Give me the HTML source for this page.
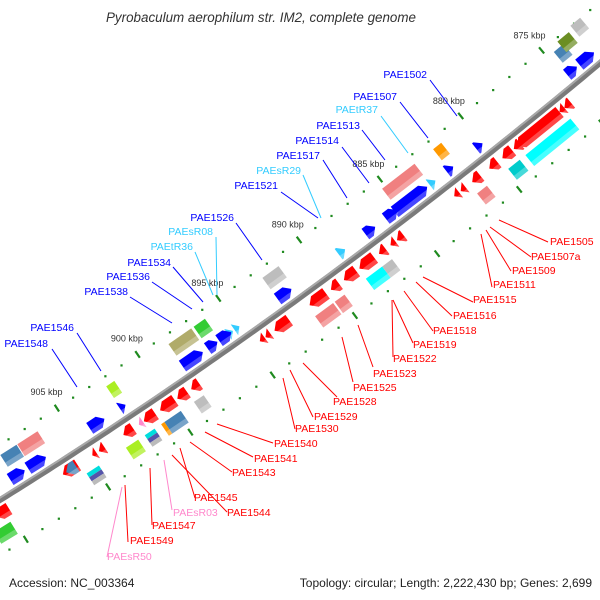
<!DOCTYPE html>
<html><head><meta charset="utf-8"><style>
html,body{margin:0;padding:0;background:#fff;}
svg{display:block;font-family:"Liberation Sans",sans-serif;}
</style></head><body>
<svg id="chart" width="600" height="600" viewBox="0 0 600 600" xmlns="http://www.w3.org/2000/svg">
<text x="261" y="22" text-anchor="middle" font-size="13.5" font-style="italic" fill="#333" textLength="310" lengthAdjust="spacingAndGlyphs">Pyrobaculum aerophilum str. IM2, complete genome</text>
<g id="ticks"></g>
<path id="backbone" d="" fill="none" stroke="#7a7a7a" stroke-width="6"/>
<path id="backbone2" d="" fill="none" stroke="#a8a8a8" stroke-width="2"/>
<g id="genes"></g>
<g id="labels"></g>
<text x="9" y="587" font-size="12" fill="#222">Accession: NC_003364</text>
<text x="592" y="587" font-size="12" fill="#222" text-anchor="end">Topology: circular; Length: 2,222,430 bp; Genes: 2,699</text>
</svg>
<script>
// ---- data ----
const tickKbp = [868,869,870,871,872,873,874,875,876,877,878,879,880,881,882,883,884,885,886,887,888,889,890,891,892,893,894,895,896,897,898,899,900,901,902,903,904,905,906,907,908,909,910,911,912];
const tickLabelKbp = [875,880,885,890,895,900,905];
const geneStart = [873.15,874.2,874.0,873.45,872.6,880.0,881.55,881.8,882.9,883.2,883.4,885.25,886.6,888.45,891.6,891.75,896.15,894.95,895.35,895.45,896.3,897.0,897.2,901.75,901.95,903.25,906.5,907.8,906.85,908.15,875.5,875.9,876.2,878.6,879.1,876.0,879.1,880.0,881.05,881.95,882.35,881.1,885.75,886.25,886.85,887.55,887.5,886.9,888.65,889.7,890.5,890.5,889.8,892.75,893.9,894.25,898.25,899.0,898.4,899.75,900.95,901.7,899.8,900.8,901.4,902.3,902.4,904.05,904.55,905.7,905.8,904.8,909.9,910.2];
const geneEnd   = [874.05,874.8,874.6,874.15,873.2,880.4,882.05,882.2,883.25,885.2,885.4,885.95,887.2,888.85,892.6,892.6,896.85,895.25,895.65,896.2,896.9,898.4,898.45,902.25,902.3,904.15,907.75,908.8,907.95,909.05,875.9,876.2,878.8,879.0,879.7,878.75,879.8,880.5,881.55,882.25,882.65,881.7,886.15,886.55,887.25,888.45,888.5,887.5,889.4,890.2,891.5,891.6,890.4,893.65,894.2,894.55,898.75,899.6,899.0,900.65,901.65,901.95,900.8,901.0,902.0,902.9,903.15,904.4,904.8,906.6,906.4,905.55,910.7,911.2];
const geneLane  = [-1,-1,-2,-2.3,-2.5,-1,-2,-1,-1,-2,-1,-1,-1,-1,-2,-1,-2,-1,-1,-1,-1,-2,-1,-2,-1,-1,-2,-2,-1,-1,1,1,1,1,1,2,2,1,1,1,1,2,1,1,1,1,2,2,1,1,1,2,2,1,1,1,1,1,2,1,1,1,2,2,2,1,2,1,1,1,1,2,1,2];
const geneKind  = ["blue","blue","steel","olivegreen","gray","blue","orange","blue","ltblue","pink","blue","blue","blue","ltblue","gray","blue","green","ltblue","ltblue","blue","blue","olive","blue","lime","blue","blue","pink","steel","blue","blue","red","red","red","red","red","cyan","cyan2","red","red","red","red","pink","red","red","red","red","cyan","gray","red","red","red","pink","pink","red","red","red","red","red","gray","red","red","rpink","steel","orange","stack","red","lime","red","red","red","steel","stack","red","green"];

const labelText = ["PAE1502","PAE1507","PAEtR37","PAE1513","PAE1514","PAE1517","PAEsR29","PAE1521","PAE1526","PAEsR08","PAEtR36","PAE1534","PAE1536","PAE1538","PAE1546","PAE1548",
 "PAE1505","PAE1507a","PAE1509","PAE1511","PAE1515","PAE1516","PAE1518","PAE1519","PAE1522","PAE1523","PAE1525","PAE1528","PAE1529","PAE1530","PAE1540","PAE1541","PAE1543","PAE1545","PAE1544","PAEsR03","PAE1547","PAE1549","PAEsR50"];
const labelColor = ["b","b","l","b","b","b","l","b","b","l","l","b","b","b","b","b",
 "r","r","r","r","r","r","r","r","r","r","r","r","r","r","r","r","r","r","r","p","r","r","p"];
const labelX = [427,397,378,360,339,320,301,278,234,213,193,171,150,128,74,48, 550,531,512,493,473,453,433,413,393,373,353,333,314,295,274,254,232,194,227,173,152,130,107];
const labelY = [78,100,113,129,144,159,174,189,221,235,250,266,280,295,331,347, 245,260,274,288,303,319,334,348,362,377,391,405,420,432,447,462,476,501,516,516,529,544,560];
const leaderA = [[430,80],[400,102],[381,116],[362,130],[342,147],[323,160],[303,175],[281,192],[236,223],[216,237],[195,252],[173,267],[152,282],[130,297],[77,333],[52,349],
 [548,242],[531,257],[511,271],[492,287],[473,302],[452,316],[433,331],[413,343],[393,357],[373,367],[353,382],[337,397],[313,417],[295,429],[273,443],[253,457],[232,472],[195,498],[227,512],[172,510],[152,525],[128,542],[107,557]];
const leaderB = [[457,116],[428,138],[408,153],[385,160],[369,183],[347,198],[321,218],[318,218],[262,260],[217,295],[213,295],[203,302],[192,309],[172,323],[101,371],[77,387],
 [499,220],[490,227],[486,230],[481,234],[423,277],[416,282],[404,291],[393,300],[392,300],[358,325],[342,337],[303,363],[290,370],[283,378],[217,424],[205,432],[190,442],[180,448],[172,455],[164,460],[150,468],[125,485],[122,487]];

// ---- geometry ----
const P0=[0,500], C1=[300,313.5], P2=[600,63];
function xOfKbp(k){ return 327 + (890-k)*16.3; }
function bez(t){ const u=1-t; return [u*u*P0[0]+2*t*u*C1[0]+t*t*P2[0], u*u*P0[1]+2*t*u*C1[1]+t*t*P2[1]]; }
function bezD(t){ const u=1-t; return [2*u*(C1[0]-P0[0])+2*t*(P2[0]-C1[0]), 2*u*(C1[1]-P0[1])+2*t*(P2[1]-C1[1])]; }
function pt(k, off){
  const t=xOfKbp(k)/600; const b=bez(t); const d=bezD(t); const L=Math.hypot(d[0],d[1]);
  const tx=d[0]/L, ty=d[1]/L; const nx=ty, ny=-tx; // up-left normal
  return [b[0]-off*nx, b[1]-off*ny];
}
function laneOff(l){ const a=Math.abs(l); return Math.sign(l)*(12+(a-1)*19); }
const SVGNS="http://www.w3.org/2000/svg";
const colors={blue:"#0000ff",red:"#ff0000",pink:"#f08080",rpink:"#ff88cc",cyan:"#00ffff",cyan2:"#00cccc",gray:"#bdbdbd",olive:"#b0ab6a",steel:"#4682b4",green:"#33cc33",lime:"#aaee22",ltblue:"#33ccff",orange:"#ff9900",olivegreen:"#6b8e23"};

// backbone
(function(){
  let d="";
  for(let i=-8;i<=108;i++){ const p=bez(i/100); d+=(i===-8?"M":"L")+p[0].toFixed(1)+","+p[1].toFixed(1); }
  document.getElementById("backbone").setAttribute("d",d);
  document.getElementById("backbone2").setAttribute("d",d);
  document.getElementById("backbone2").setAttribute("transform","translate(-1.2,-1.6)");
})();

function poly(parent, pts, fill, name, op){
  const e=document.createElementNS(SVGNS,"polygon");
  e.setAttribute("points",pts.map(p=>p[0].toFixed(1)+","+p[1].toFixed(1)).join(" "));
  e.setAttribute("fill",fill);
  if(op) e.setAttribute("fill-opacity",op);
  
  
  parent.appendChild(e);
  return e;
}

// ticks
const tg=document.getElementById("ticks");
tickKbp.forEach(k=>{
  [-47,47].forEach(off=>{
    if(k%5===0){
      const a=pt(k,off-4), b=pt(k,off+4);
      const ln=document.createElementNS(SVGNS,"line");
      ln.setAttribute("x1",a[0]);ln.setAttribute("y1",a[1]);ln.setAttribute("x2",b[0]);ln.setAttribute("y2",b[1]);
      ln.setAttribute("stroke","#1f8a1f");ln.setAttribute("stroke-width","2.2");
      
      
      tg.appendChild(ln);
    } else {
      const p=pt(k,off);
      const r=document.createElementNS(SVGNS,"rect");
      r.setAttribute("x",p[0]-1);r.setAttribute("y",p[1]-1);r.setAttribute("width",2.2);r.setAttribute("height",2.2);
      r.setAttribute("fill","#1f8a1f");
      
      
      tg.appendChild(r);
    }
  });
});
tickLabelKbp.forEach(k=>{
  const p=pt(k,-66);
  const t=document.createElementNS(SVGNS,"text");
  t.setAttribute("x",p[0]);t.setAttribute("y",p[1]+3);t.setAttribute("text-anchor","middle");
  t.setAttribute("font-size","9");t.setAttribute("fill","#333");
  t.textContent=k+" kbp";
  
  
  tg.appendChild(t);
});

// genes
const gg=document.getElementById("genes");
for(let i=0;i<geneStart.length;i++){
  const k1=geneStart[i], k2=geneEnd[i], lane=geneLane[i], kind=geneKind[i];
  const off=laneOff(lane);
  const g=document.createElementNS(SVGNS,"g");
  
  
  gg.appendChild(g);
  const h = Math.abs(lane)>=2 ? 7 : 6.5;
  if(Math.abs(lane)===1){
    // arrow: upper (lane<0) points to smaller kbp, lower points to larger kbp
    const len=k2-k1, head=Math.min(0.32,len);
    let tail, neck, tip;
    if(lane<0){ tip=k1; neck=k1+head; tail=k2; } else { tip=k2; neck=k2-head; tail=k1; }
    const pts=[pt(tail,off-h),pt(neck,off-h),pt(tip,off),pt(neck,off+h),pt(tail,off+h)];
    poly(g,pts,colors[kind],"gene-arrow");
    poly(g,[pt(tail,off+2),pt(neck,off+2),pt(tip+(lane<0?0.12:-0.12)*0,off+h*0.35),pt(neck,off+h),pt(tail,off+h)],"#ffffff","gene-shade",0.28);
  } else if(kind==="stack"){
    const sc=["#00dddd","#5555aa","#bbbbbb"];
    for(let s=0;s<3;s++){
      const a=off-h+s*(2*h/3), b=a+2*h/3;
      poly(g,[pt(k1,a),pt(k2,a),pt(k2,b),pt(k1,b)],sc[s],"gene-box-strip");
    }
  } else {
    poly(g,[pt(k1,off-h),pt(k2,off-h),pt(k2,off+h),pt(k1,off+h)],colors[kind],"gene-box");
    poly(g,[pt(k1,off+2),pt(k2,off+2),pt(k2,off+h),pt(k1,off+h)],"#ffffff","gene-shade",0.28);
  }
}

// labels
const lg=document.getElementById("labels");
const lc={b:"#0000ff",l:"#33ccff",r:"#ff0000",p:"#ff88cc"};
for(let i=0;i<labelText.length;i++){
  const ln=document.createElementNS(SVGNS,"line");
  ln.setAttribute("x1",leaderA[i][0]);ln.setAttribute("y1",leaderA[i][1]);
  ln.setAttribute("x2",leaderB[i][0]);ln.setAttribute("y2",leaderB[i][1]);
  ln.setAttribute("stroke",lc[labelColor[i]]);ln.setAttribute("stroke-width","1");
  
  
  lg.appendChild(ln);
  const t=document.createElementNS(SVGNS,"text");
  const upper = i<16;
  t.setAttribute("x",labelX[i]);t.setAttribute("y",labelY[i]);
  t.setAttribute("text-anchor",upper?"end":"start");
  t.setAttribute("font-size","10.5");t.setAttribute("fill",lc[labelColor[i]]);
  t.textContent=labelText[i];
  
  
  lg.appendChild(t);
}
</script>
</body></html>
